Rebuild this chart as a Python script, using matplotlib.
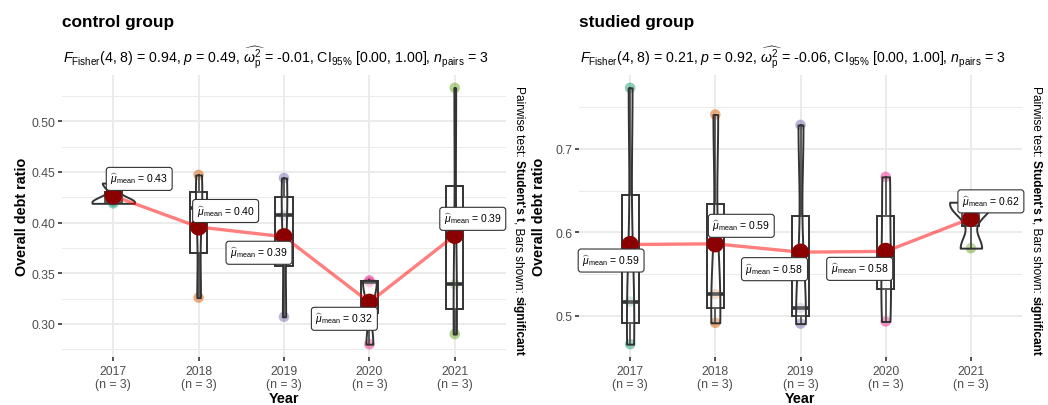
import numpy as np
import matplotlib
matplotlib.use("Agg")
import matplotlib.pyplot as plt

plt.rcParams['font.family'] = ['Liberation Sans', 'DejaVu Sans']
plt.rcParams['mathtext.fontset'] = 'custom'
plt.rcParams['mathtext.rm'] = 'Liberation Sans'
plt.rcParams['mathtext.it'] = 'Liberation Sans:italic'
plt.rcParams['mathtext.bf'] = 'Liberation Sans:bold'

# ---- data ----
years = ["2017", "2018", "2019", "2020", "2021"]
n_obs = [3, 3, 3, 3, 3]

control_values = [
    [0.419, 0.421, 0.439],
    [0.326, 0.414, 0.447],
    [0.307, 0.407, 0.444],
    [0.280, 0.341, 0.343],
    [0.290, 0.339, 0.533],
]
studied_values = [
    [0.466, 0.517, 0.773],
    [0.4916, 0.526, 0.741],
    [0.4906, 0.5094, 0.7286],
    [0.4932, 0.5718, 0.6664],
    [0.581, 0.633, 0.636],
]

panel_titles = ["control group", "studied group"]
f_stats = [0.94, 0.21]
p_values = [0.49, 0.92]
omega_sq = [-0.01, -0.06]
ci_low = [0.00, 0.00]
ci_high = [1.00, 1.00]
df_num, df_den = 4, 8
n_pairs = 3

year_colors = ["#1B9E77", "#D95F02", "#7570B3", "#E7298A", "#66A61E"]

W, H = 1048, 406
fig = plt.figure(figsize=(W / 100, H / 100), dpi=100)

# axes rectangles in pixels: left, right, top, bottom
panels_px = [(62, 506, 76, 358), (579, 1022, 76, 358)]
major_ticks = [np.arange(0.30, 0.501, 0.05), np.arange(0.5, 0.701, 0.1)]
tick_fmt = ["{:.2f}", "{:.1f}"]
label_offsets_px = [
    [(26, 17), (27, 16), (-25, -16), (-25, -16.5), (18, 16.6)],
    [(-19, -16), (26, 18), (-26, -17), (-26, -17.5), (20, 17)],
]
caption_x_px = [519, 1036]

line_col = "#333333"


def density_outline(vals, n_grid=512):
    v = np.asarray(vals, float)
    sd = v.std(ddof=1)
    q1, q3 = np.percentile(v, [25, 75])
    bw = 0.9 * min(sd, (q3 - q1) / 1.34) * len(v) ** -0.2
    ys = np.linspace(v.min(), v.max(), n_grid)
    dens = np.exp(-0.5 * ((ys[:, None] - v[None, :]) / bw) ** 2).sum(1)
    dens /= len(v) * bw * np.sqrt(2 * np.pi)
    return ys, dens


def px_rect(l, r, t, b):
    return [l / W, 1 - b / H, (r - l) / W, (b - t) / H]


renderer = fig.canvas.get_renderer()

for k, values in enumerate([control_values, studied_values]):
    l, r, t, b = panels_px[k]
    ax = fig.add_axes(px_rect(l, r, t, b))
    xs = np.arange(1, len(years) + 1)

    # y range with 5% padding around the data
    allv = np.concatenate([np.asarray(v) for v in values])
    span = allv.max() - allv.min()
    ax.set_ylim(allv.min() - 0.05 * span, allv.max() + 0.05 * span)
    ax.set_xlim(0.4, len(years) + 0.6)

    # raw observations
    for i, vals in enumerate(values):
        ax.scatter(np.full(len(vals), xs[i]), vals, s=7.6 ** 2,
                   color=year_colors[i], alpha=0.5, edgecolors='none', zorder=2)

    # boxplots
    ax.boxplot(values, positions=xs, widths=0.2, patch_artist=True,
               showcaps=False, showfliers=False, manage_ticks=False,
               boxprops=dict(facecolor=(1, 1, 1, 0.5), edgecolor=line_col, lw=1.4),
               medianprops=dict(color=line_col, lw=2.6),
               whiskerprops=dict(color=line_col, lw=1.4), zorder=3)

    # violins, area-scaled to a maximum width of 0.5
    shapes = [density_outline(v) for v in values]
    dmax = max(d.max() for _, d in shapes)
    for i, (ys, d) in enumerate(shapes):
        hw = 0.25 * d / dmax
        ax.fill_betweenx(ys, xs[i] - hw, xs[i] + hw, facecolor=(1, 1, 1, 0.2),
                         edgecolor=line_col, lw=1.4, zorder=4)

    # means
    means = [float(np.mean(v)) for v in values]
    ax.plot(xs, means, color='red', alpha=0.5, lw=2.4, zorder=5,
            solid_capstyle='butt')
    ax.scatter(xs, means, s=12.4 ** 2, color='#8B0000', edgecolors='none', zorder=6)
    for i, m in enumerate(means):
        dx, dy = label_offsets_px[k][i]
        ax.annotate(r"$\widehat{\mu}_{\mathrm{mean}}$ = " + f"{m:.2f}",
                    xy=(xs[i], m), xytext=(dx * 0.72, dy * 0.72),
                    textcoords='offset points', ha='center', va='center',
                    fontsize=7.5, zorder=7,
                    bbox=dict(boxstyle='round,pad=0.38,rounding_size=0.28',
                              fc='white', ec=line_col, lw=0.8))

    # axes styling
    ax.set_xticks(xs)
    ax.set_xticklabels([f"{y}\n(n = {n})" for y, n in zip(years, n_obs)],
                       linespacing=1.05)
    mt = major_ticks[k]
    ax.set_yticks(mt)
    ax.set_yticklabels([tick_fmt[k].format(v) for v in mt])
    step = mt[1] - mt[0]
    ylo, yhi = ax.get_ylim()
    minors = np.arange(mt[0] - step / 2, yhi, step)
    ax.set_yticks([m for m in minors if ylo <= m <= yhi], minor=True)
    ax.tick_params(which='major', length=3, width=1.2, color=line_col,
                   labelsize=8.8, labelcolor='#4D4D4D', pad=2)
    ax.tick_params(axis='x', which='major', pad=3)
    ax.tick_params(which='minor', length=0)
    ax.grid(which='major', color='#EBEBEB', lw=1.4, zorder=0)
    ax.grid(which='minor', axis='y', color='#EBEBEB', lw=0.7, zorder=0)
    ax.set_axisbelow(True)
    for s in ax.spines.values():
        s.set_visible(False)

    # titles
    fig.text(l / W, 1 - 22 / H, panel_titles[k], fontsize=12.4,
             weight='bold', va='center', ha='left')
    subtitle = (r"$\mathit{F}_{\mathrm{Fisher}}$" + f"({df_num}, {df_den}) = {f_stats[k]:.2f}, "
                + r"$\mathit{p}$" + f" = {p_values[k]:.2f}, "
                + r"$\widehat{\omega_{\mathrm{p}}^{2}}$" + f" = {omega_sq[k]:.2f}, "
                + r"CI$_{95\%}$" + f" [{ci_low[k]:.2f}, {ci_high[k]:.2f}], "
                + r"$\mathit{n}_{\mathrm{pairs}}$" + f" = {n_pairs}")
    fig.text(l / W + 1 / W, 1 - 58 / H, subtitle, fontsize=10.2, va='center', ha='left')

    # axis titles
    fig.text((l - 40) / W, 1 - ((t + b) / 2 + 0) / H, "Overall debt ratio",
             rotation=90, fontsize=10.4, weight='bold', ha='center', va='center')
    fig.text((l + r) / 2 / W, 1 - 399 / H, "Year", fontsize=10.4,
             weight='bold', ha='center', va='center')

    # pairwise-test caption, read top to bottom
    pieces = [("Pairwise test:", 'normal'), ("Student's t", 'bold'),
              (", Bars shown:", 'normal'), ("significant", 'bold')]
    fs = 8.6
    probe1 = fig.text(0, 0, "a a", fontsize=fs)
    probe2 = fig.text(0, 0, "aa", fontsize=fs)
    gap = probe1.get_window_extent(renderer).width - probe2.get_window_extent(renderer).width
    probe1.remove()
    probe2.remove()
    lengths = []
    for txt, wt in pieces:
        p = fig.text(0, 0, txt, fontsize=fs, weight=wt)
        lengths.append(p.get_window_extent(renderer).width)
        p.remove()
    gaps = [0, gap, 0, gap]
    total = sum(lengths) + sum(gaps)
    y = 221 - total / 2
    for (txt, wt), ln, g in zip(pieces, lengths, gaps):
        y += g
        fig.text(caption_x_px[k] / W, 1 - y / H, txt, rotation=-90, fontsize=fs,
                 weight=wt, ha='center', va='top')
        y += ln

fig.savefig("out.png", dpi=100, facecolor='white')
